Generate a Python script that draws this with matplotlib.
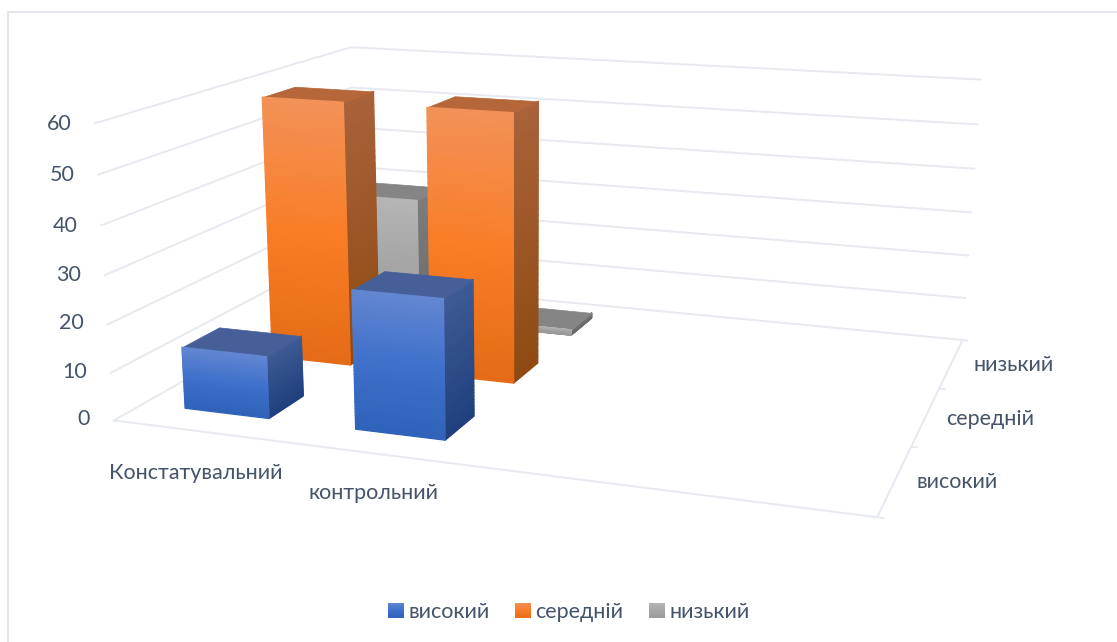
import numpy as np
import matplotlib
matplotlib.use("Agg")
import matplotlib.pyplot as plt
from matplotlib.legend_handler import HandlerBase
from matplotlib.lines import Line2D
from matplotlib.patches import Patch, Rectangle
from mpl_toolkits.mplot3d.art3d import Poly3DCollection

plt.rcParams['font.family'] = ['Lato', 'Open Sans', 'DejaVu Sans']

categories = ['Констатувальний', 'контрольний']
series_names = ['високий', 'середній', 'низький']
vysokyi = [13, 28.5]
serednii = [58, 58]
nyzkyi = [29, 1.3]
z_ticks = [0, 10, 20, 30, 40, 50, 60]

W, H = 1117, 642
TEXT = '#44546a'
GRID = '#e6e9f0'
BAR_X = 0.5
BAR_Y = 0.4
N_BANDS = 40
FONT = 15.5

# front (top, middle, bottom), side (top, bottom), lid
styles = [
    (('#6387d2', '#3f70ca', '#2f62b9'), ('#3f5b95', '#1f3f7e'), '#465f98'),
    (('#f39158', '#f97d26', '#e56b16'), ('#a9623a', '#8e4a12'), '#b5673a'),
    (('#b5b5b5', '#a7a7a7', '#9a9a9a'), ('#7d7d7d', '#6b6b6b'), '#858585'),
]

# where the box corners land on the canvas, used to set up the camera
box_world = np.array([(0, 0, 0), (4, 0, 0), (4, 3, 0), (0, 3, 0),
                      (0, 0, 60), (0, 3, 60), (4, 3, 60)], float)
box_px = np.array([(115, 420), (877, 518), (963, 339), (356, 283),
                   (94, 123), (352, 47), (980, 80)], float)


def hexmix(c0, c1, t):
    a = np.array(matplotlib.colors.to_rgb(c0))
    b = np.array(matplotlib.colors.to_rgb(c1))
    return tuple(a + (b - a) * t)


def front_color(stops, t):
    # t runs from 0 at the bottom of the bar to 1 at the top
    if t < 0.5:
        return hexmix(stops[2], stops[1], t * 2)
    return hexmix(stops[1], stops[0], (t - 0.5) * 2)


def camera_matrix(ax):
    ax.apply_aspect()
    disp = np.column_stack([box_px[:, 0], H - box_px[:, 1]])
    uv = ax.transData.inverted().transform(disp)
    rows = []
    for (x, y, z), (u, v) in zip(box_world, uv):
        rows.append([x, y, z, 1, 0, 0, 0, 0, -u * x, -u * y, -u * z, -u])
        rows.append([0, 0, 0, 0, x, y, z, 1, -v * x, -v * y, -v * z, -v])
    p = np.linalg.svd(np.array(rows))[2][-1].reshape(3, 4)
    p = p / p[2, 3]
    # depth stays slightly negative everywhere, otherwise mplot3d drops the points
    centre = np.linalg.svd(p)[2][-1]
    depth = -0.5 * p[2] + 1e-3 * centre
    return np.vstack([p[0], p[1], depth, p[2]])


def draw_bar(ax, x0, y0, height, style, order):
    x1, y1 = x0 + BAR_X, y0 + BAR_Y
    front, side, lid = style
    zs = np.linspace(0, height, N_BANDS + 1)
    ts = (np.arange(N_BANDS) + 0.5) / N_BANDS

    side_verts = [[(x1, y0, a), (x1, y1, a), (x1, y1, b), (x1, y0, b)]
                  for a, b in zip(zs[:-1], zs[1:])]
    side_cols = [hexmix(side[1], side[0], t) for t in ts]
    ax.add_collection3d(Poly3DCollection(side_verts, facecolors=side_cols, edgecolors=side_cols,
                                         linewidths=0.9, zorder=order))

    top = [[(x0, y0, height), (x1, y0, height), (x1, y1, height), (x0, y1, height)]]
    ax.add_collection3d(Poly3DCollection(top, facecolors=lid, edgecolors=lid,
                                         linewidths=0.5, zorder=order + 0.1))

    front_verts = [[(x0, y0, a), (x1, y0, a), (x1, y0, b), (x0, y0, b)]
                   for a, b in zip(zs[:-1], zs[1:])]
    front_cols = [front_color(front, t) for t in ts]
    ax.add_collection3d(Poly3DCollection(front_verts, facecolors=front_cols, edgecolors=front_cols,
                                         linewidths=0.9, zorder=order + 0.2))


class GradientSwatch(HandlerBase):
    def create_artists(self, legend, orig_handle, xdescent, ydescent, width, height, fontsize, trans):
        parts = []
        for i in range(12):
            c = front_color(orig_handle.stops, 1 - (i + 0.5) / 12)
            parts.append(Rectangle((-xdescent, -ydescent + height * (11 - i) / 12), width, height / 12 + 0.2,
                                   facecolor=c, edgecolor='none', transform=trans))
        return parts


fig = plt.figure(figsize=(W / 100, H / 100), dpi=100)
# the frame only shows along the top and left edges
fig.add_artist(Line2D([1, 8 / W, 8 / W], [1 - 12 / H, 1 - 12 / H, 0], color='#e3e6ec', lw=1.5))

ax = fig.add_subplot(projection='3d', computed_zorder=False)
ax.set_position([0, 0, 1, 1])
ax.set_axis_off()
ax.patch.set_visible(False)
M = camera_matrix(ax)
ax.get_proj = lambda: M

# walls and floor lines
for z in z_ticks:
    ax.plot([0, 0, 4], [0, 3, 3], [z, z, z], color=GRID, lw=1.4, zorder=1, clip_on=False)
ax.plot([0, 4, 4], [0, 0, 3], [0, 0, 0], color=GRID, lw=1.4, zorder=1, clip_on=False)
for y in range(4):
    ax.plot([4, 4.03], [y, y], [0, 0], color=GRID, lw=1.2, zorder=1, clip_on=False)

# back row first so the nearer bars cover it
all_series = [vysokyi, serednii, nyzkyi]
for s in (2, 1, 0):
    for c in range(len(categories)):
        order = 10 + (2 - s) * 10 + c * 2
        draw_bar(ax, c + 0.25, s + 0.3, all_series[s][c], styles[s], order)
for col in ax.collections:
    col.set_clip_on(False)

tick_right = [90, 87, 84, 81, 78, 75, 72]
tick_y = [419, 372, 323, 275, 226, 175, 124]
for z, px, py in zip(z_ticks, tick_right, tick_y):
    fig.text(px / W, 1 - py / H, str(z), ha='right', va='center', fontsize=FONT, color=TEXT)

for label, px, py in zip(categories, [196, 373], [473, 493]):
    fig.text(px / W, 1 - py / H, label, ha='center', va='center', fontsize=FONT, color=TEXT)
for label, px, py in zip(series_names, [957, 990, 1014], [482, 419, 365]):
    fig.text(px / W, 1 - py / H, label, ha='center', va='center', fontsize=FONT, color=TEXT)

handles = [Patch(label=n) for n in series_names]
for h, st in zip(handles, styles):
    h.stops = st[0]
fig.legend(handles=handles, labels=series_names, loc='center', bbox_to_anchor=(569 / W, 1 - 612 / H),
           ncol=3, frameon=False, fontsize=FONT, labelcolor=TEXT, handlelength=0.72, handleheight=0.72,
           handletextpad=0.22, columnspacing=1.2, handler_map={Patch: GradientSwatch()})

fig.savefig('out.png', dpi=100)
